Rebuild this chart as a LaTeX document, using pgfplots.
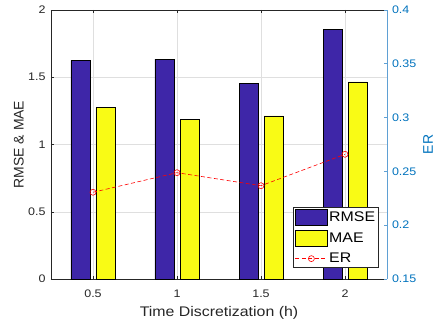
\documentclass[border=0pt]{standalone}
\usepackage{fontspec}
\setmainfont{Liberation Sans}[FakeStretch=1.14]
\newfontfamily\vfont{Liberation Sans}
\usepackage{pgfplots}
\pgfplotsset{compat=1.18}
\definecolor{rmse}{RGB}{62,38,168}
\definecolor{mae}{RGB}{249,251,21}
\definecolor{axgray}{RGB}{38,38,38}
\definecolor{mblue}{RGB}{0,114,189}
\definecolor{mbluel}{RGB}{95,160,212}
\definecolor{gridgray}{RGB}{223,223,223}
\pgfplotsset{
  legbar/.style={legend image code/.code={\draw[##1] (0bp,-8bp) rectangle (32bp,8bp);}},
  legline/.style={legend image code/.code={\draw[mark repeat=2,mark phase=2,##1] plot coordinates {(0bp,0bp)(16bp,0bp)(32bp,0bp)};}},
}
\begin{document}
\begin{tikzpicture}
\begin{axis}[
  name=main,
  scale only axis, width=336bp, height=269bp,
  xmin=0.25, xmax=2.25, ymin=0, ymax=2,
  xtick={0.5,1,1.5,2}, xticklabels={0.5,1,1.5,2},
  ytick={0,0.5,1,1.5,2}, yticklabels={0,0.5,1,1.5,2},
  axis x line*=box, axis y line*=left,
  axis line style={axgray, line width=0.6bp, -},
  grid=major, major grid style={gridgray, line width=0.5bp},
  tick align=inside, major tick length=3.5bp, tick style={axgray, line width=0.5bp},
  /pgf/number format/assume math mode=true,
  ticklabel style={font=\fontsize{11}{13}\selectfont, text=axgray},
  xticklabel style={anchor=base, yshift=-18bp},
  yticklabel style={anchor=east, xshift=-2bp},
  xlabel={Time Discretization (h)},
  xlabel style={font=\fontsize{14}{16}\selectfont, text=axgray, at={(axis description cs:0.5,0)}, anchor=base, yshift=-37bp},
  ylabel={\vfont RMSE \& MAE},
  ylabel style={font=\fontsize{14}{16}\selectfont, text=axgray, at={(axis description cs:-0.0961,0.5)}, anchor=center},
]
\addplot[ybar, bar width=19bp, bar shift=-12.5bp, fill=rmse, draw=black, line width=0.6bp]
  coordinates {(0.5,1.625) (1,1.635) (1.5,1.455) (2,1.855)};
\addplot[ybar, bar width=19bp, bar shift=12.5bp, fill=mae, draw=black, line width=0.6bp]
  coordinates {(0.5,1.275) (1,1.185) (1.5,1.212) (2,1.465)};
\end{axis}
\begin{axis}[
  scale only axis, width=336bp, height=269bp,
  xmin=0.25, xmax=2.25, ymin=0.15, ymax=0.4,
  axis x line=none, axis y line*=right,
  y axis line style={mbluel, line width=1bp, -},
  ytick={0.15,0.2,0.25,0.3,0.35,0.4},
  yticklabels={0.15,0.2,0.25,0.3,0.35,0.4},
  tick align=inside, major tick length=3.5bp, ytick style={mbluel, line width=0.6bp},
  /pgf/number format/assume math mode=true,
  yticklabel style={font=\fontsize{11}{13}\selectfont, text=mblue, anchor=west, xshift=1.5bp},
  ylabel={\vfont ER},
  ylabel style={font=\fontsize{14}{16}\selectfont, text=mblue, at={(axis description cs:1.122,0.5)}, anchor=center},
  legend style={at={(0.976,0.041)}, anchor=south east, draw=axgray, line width=0.6bp, fill=white,
    font=\fontsize{14}{16}\selectfont, inner xsep=2bp, inner ysep=2bp, row sep=4.5bp,
    nodes={inner sep=1.5bp}, cells={anchor=west}},
]
\addlegendimage{legbar, fill=rmse, draw=black, line width=0.6bp}
\addlegendentry{RMSE}
\addlegendimage{legbar, fill=mae, draw=black, line width=0.6bp}
\addlegendentry{MAE}
\addplot[legline, red, line width=0.6bp, dash pattern=on 4bp off 2.5bp, mark=o, mark size=3bp, mark options={solid}]
  coordinates {(0.5,0.2306) (1,0.2488) (1.5,0.2367) (2,0.2659)};
\addlegendentry{ER}
\end{axis}
\pgfresetboundingbox
\path[use as bounding box] (-51bp,-46bp) rectangle (386bp,279bp);
\end{tikzpicture}
\end{document}
